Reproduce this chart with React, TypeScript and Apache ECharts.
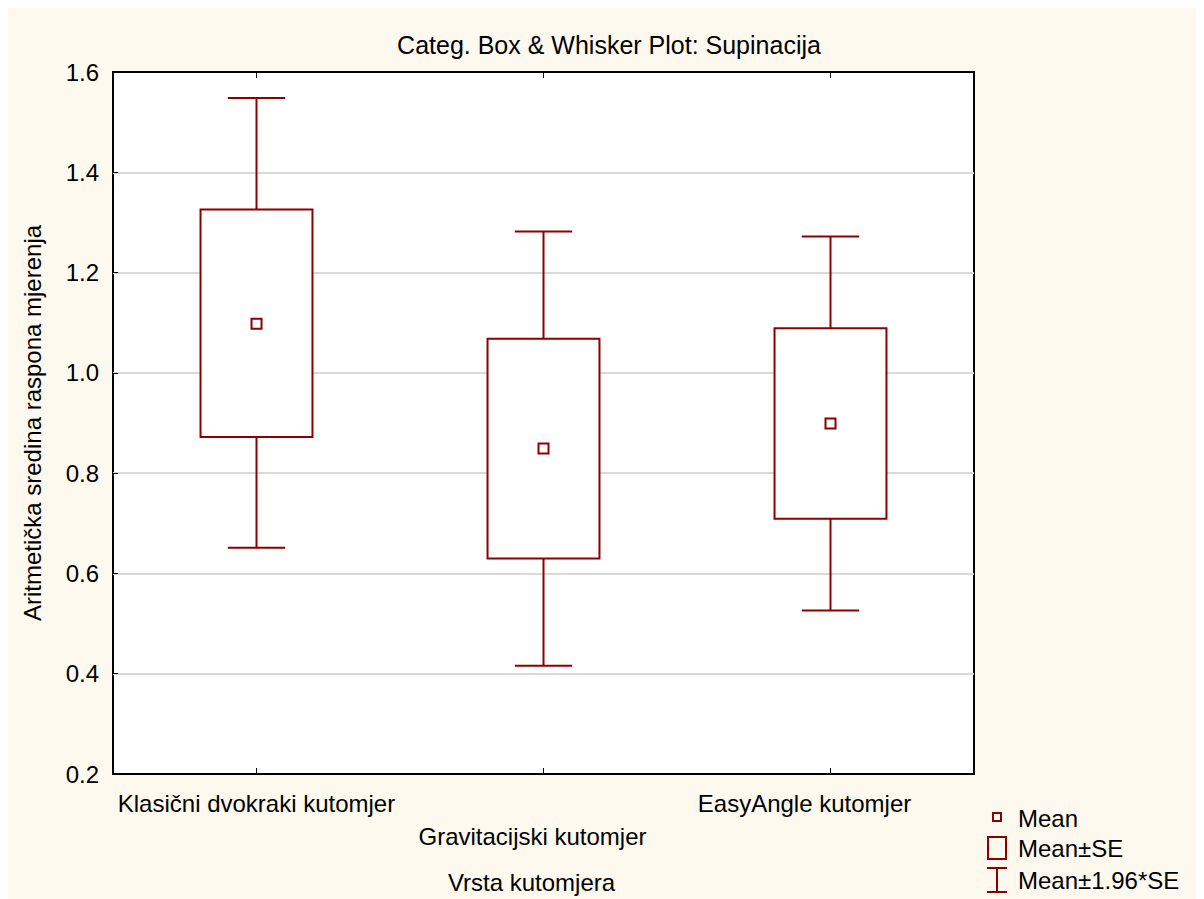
import React, { useEffect, useRef } from "react";
import * as echarts from "echarts";

const categories = ["Klasični dvokraki kutomjer", "Gravitacijski kutomjer", "EasyAngle kutomjer"];
const ciLow = [0.651, 0.416, 0.526];
const seLow = [0.872, 0.63, 0.709];
const means = [1.098, 0.849, 0.899];
const seHigh = [1.326, 1.068, 1.089];
const ciHigh = [1.548, 1.282, 1.272];
const yMin = 0.2;
const yMax = 1.6;
const yStep = 0.2;

const titleText = "Categ. Box & Whisker Plot: Supinacija";
const yName = "Aritmetička sredina raspona mjerenja";
const xName = "Vrsta kutomjera";
const legendLabels = ["Mean", "Mean±SE", "Mean±1.96*SE"];

const RED = "#8b0000";
const BG = "#fdf9ef";
const FONT = "'Liberation Sans', Arial, sans-serif";

export default function App() {
  const ref = useRef<HTMLDivElement>(null);
  useEffect(() => {
    document.documentElement.style.overflow = "hidden";
    document.body.style.overflow = "hidden";
    const chart = echarts.init(ref.current!, null, { renderer: "svg" });
    const data = categories.map((_, i) => [i, ciLow[i], seLow[i], means[i], seHigh[i], ciHigh[i]]);
    const txt = { fontFamily: FONT, fontSize: 24, color: "#000" };
    chart.setOption({
      animation: false,
      backgroundColor: BG,
      textStyle: { fontFamily: FONT },
      title: {
        text: titleText,
        left: 601,
        top: 24,
        padding: 0,
        textAlign: "center",
        textStyle: { ...txt, fontWeight: "normal", fontSize: 25 },
      },
      grid: {
        left: 105,
        top: 64,
        right: 230,
        bottom: 125,
        show: true,
        backgroundColor: "#ffffff",
        borderColor: "#000",
        borderWidth: 2,
        outerBoundsMode: "none",
      },
      xAxis: [
        {
          type: "category",
          data: categories,
          position: "bottom",
          axisLine: { show: false },
          axisTick: { show: true, inside: true, length: 6, alignWithLabel: true, lineStyle: { color: "#000", width: 1 } },
          axisLabel: {
            ...txt,
            interval: 0,
            margin: 13,
            lineHeight: 33,
            formatter: (v: string, i: number) =>
              i === 1 ? `\n{c1|${v}}` : i === 2 ? `{c2|${v}}` : v,
            rich: {
              c1: { ...txt, lineHeight: 33, padding: [0, 22, 0, 0] },
              c2: { ...txt, lineHeight: 33, padding: [0, 52, 0, 0] },
            },
          },
          splitLine: { show: false },
          name: xName,
          nameLocation: "middle",
          nameGap: 96,
          nameTextStyle: { ...txt, padding: [0, 24, 0, 0] },
        },
        {
          type: "category",
          data: categories,
          position: "top",
          axisLine: { show: false },
          axisTick: { show: true, inside: true, length: 6, alignWithLabel: true, lineStyle: { color: "#000", width: 1 } },
          axisLabel: { show: false },
          splitLine: { show: false },
        },
      ],
      yAxis: {
        type: "value",
        min: yMin,
        max: yMax,
        interval: yStep,
        axisLine: { show: false },
        axisTick: { show: true, inside: true, length: 5, lineStyle: { color: "#000", width: 1 } },
        axisLabel: { ...txt, margin: 14, formatter: (v: number) => v.toFixed(1) },
        splitLine: { show: true, showMinLine: false, showMaxLine: false, lineStyle: { color: "#d9d9d9", width: 2 } },
        name: yName,
        nameLocation: "middle",
        nameGap: 69,
        nameTextStyle: txt,
      },
      series: [
        {
          type: "custom",
          xAxisIndex: 0,
          yAxisIndex: 0,
          data,
          renderItem: (params: any, api: any) => {
            const i = api.value(0);
            const x = api.coord([i, api.value(3)])[0];
            const yCiL = api.coord([i, api.value(1)])[1];
            const ySeL = api.coord([i, api.value(2)])[1];
            const yMean = api.coord([i, api.value(3)])[1];
            const ySeH = api.coord([i, api.value(4)])[1];
            const yCiH = api.coord([i, api.value(5)])[1];
            const band = api.size([1, 0])[0];
            const boxW = band * 0.39;
            const capW = band * 0.2;
            const ls = { stroke: RED, lineWidth: 2, fill: null };
            return {
              type: "group",
              children: [
                { type: "line", shape: { x1: x, y1: ySeH, x2: x, y2: yCiH }, style: ls },
                { type: "line", shape: { x1: x - capW / 2, y1: yCiH, x2: x + capW / 2, y2: yCiH }, style: ls },
                { type: "line", shape: { x1: x, y1: ySeL, x2: x, y2: yCiL }, style: ls },
                { type: "line", shape: { x1: x - capW / 2, y1: yCiL, x2: x + capW / 2, y2: yCiL }, style: ls },
                {
                  type: "rect",
                  shape: { x: x - boxW / 2, y: ySeH, width: boxW, height: ySeL - ySeH },
                  style: { stroke: RED, lineWidth: 2, fill: "#ffffff" },
                },
                {
                  type: "rect",
                  shape: { x: x - 5, y: yMean - 5, width: 10, height: 10 },
                  style: { stroke: RED, lineWidth: 2, fill: "#ffffff" },
                },
              ],
            };
          },
        },
      ],
      graphic: [
        { type: "rect", shape: { x: 985, y: 805, width: 8, height: 8 }, style: { stroke: RED, lineWidth: 2, fill: "#fff" } },
        { type: "text", x: 1010, y: 810, style: { text: legendLabels[0], font: `24px ${FONT}`, fill: "#000", verticalAlign: "middle" } },
        { type: "rect", shape: { x: 980, y: 829, width: 18, height: 22 }, style: { stroke: RED, lineWidth: 2, fill: null } },
        { type: "text", x: 1010, y: 840, style: { text: legendLabels[1], font: `24px ${FONT}`, fill: "#000", verticalAlign: "middle" } },
        { type: "line", shape: { x1: 979, y1: 860, x2: 999, y2: 860 }, style: { stroke: RED, lineWidth: 2 } },
        { type: "line", shape: { x1: 989, y1: 860, x2: 989, y2: 884 }, style: { stroke: RED, lineWidth: 2 } },
        { type: "line", shape: { x1: 979, y1: 884, x2: 999, y2: 884 }, style: { stroke: RED, lineWidth: 2 } },
        { type: "text", x: 1010, y: 872, style: { text: legendLabels[2], font: `24px ${FONT}`, fill: "#000", verticalAlign: "middle" } },
      ],
    });
    return () => chart.dispose();
  }, []);
  return <div ref={ref} style={{ width: 1196, height: 891 }} />;
}
